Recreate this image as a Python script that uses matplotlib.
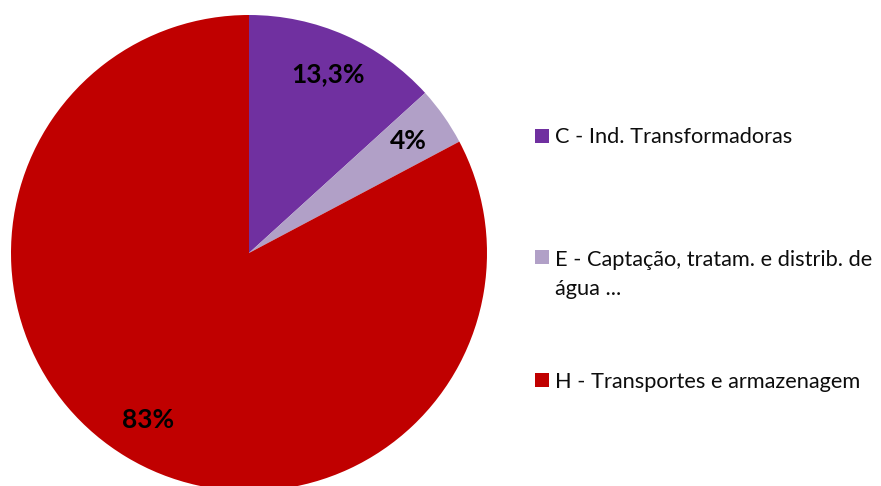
import matplotlib
matplotlib.use("Agg")
import matplotlib.pyplot as plt
from matplotlib.patches import Rectangle

categories = ["C - Ind. Transformadoras",
              "E - Captação, tratam. e distrib. de\nágua ...",
              "H - Transportes e armazenagem"]
values = [13.3, 4.0, 83.0]
value_labels = ["13,3%", "4%", "83%"]
colors = ["#7030A0", "#B1A0C7", "#C00000"]

W, H = 881, 486
fig = plt.figure(figsize=(W / 100, H / 100), dpi=100)
ax = fig.add_axes([0, 0, 1, 1])

lab_iter = iter(value_labels)
wedges, texts, autotexts = ax.pie(
    values, colors=colors, startangle=90, counterclock=False,
    center=(249, H - 253), radius=238,
    autopct=lambda p: next(lab_iter), pctdistance=0.82,
    wedgeprops=dict(linewidth=0),
    textprops=dict(fontsize=19, fontweight="bold", family="Lato", color="black"))

ax.set_xlim(0, W)
ax.set_ylim(0, H)
ax.set_aspect("auto")
ax.axis("off")

# legend (manual, Excel-like spacing)
leg_y = [136, 257, 380]
base_y = [143, 295, 388]   # baseline of last line of each entry
for cat, col, y, b in zip(categories, colors, leg_y, base_y):
    fig.patches.append(Rectangle((535 / W, 1 - (y + 7) / H), 14 / W, 14 / H,
                                 transform=fig.transFigure, facecolor=col,
                                 edgecolor="none"))
    fig.text(555 / W, 1 - b / H, cat, fontsize=15.7, family="Lato",
             color="#0d0d0d", va="baseline", ha="left", linespacing=1.56)

fig.savefig("out.png", dpi=100)
